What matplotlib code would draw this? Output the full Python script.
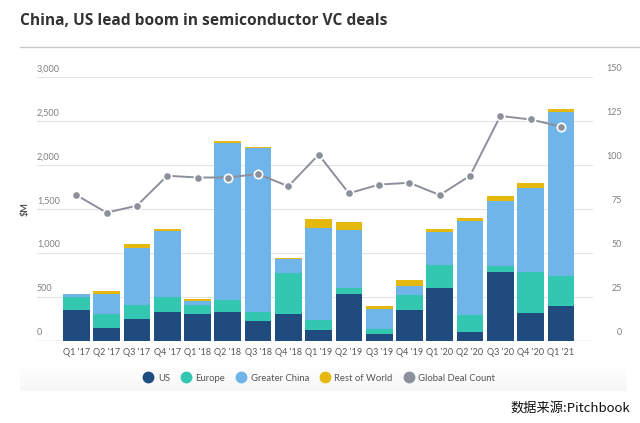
import matplotlib.pyplot as plt
from matplotlib.lines import Line2D
import numpy as np

# 数据 (读自原图, $M 及交易数量)
quarters = ["Q1 '17", "Q2 '17", "Q3 '17", "Q4 '17", "Q1 '18", "Q2 '18", "Q3 '18",
            "Q4 '18", "Q1 '19", "Q2 '19", "Q3 '19", "Q4 '19", "Q1 '20", "Q2 '20",
            "Q3 '20", "Q4 '20", "Q1 '21"]
us = [350, 150, 245, 330, 305, 330, 225, 305, 120, 540, 85, 355, 600, 105, 780, 315, 400]
europe = [145, 155, 160, 170, 100, 140, 100, 465, 115, 60, 55, 170, 260, 190, 70, 475, 340]
china = [35, 230, 650, 750, 55, 1785, 1875, 165, 1050, 665, 225, 105, 380, 1075, 745, 945, 1860]
rest = [5, 38, 45, 20, 20, 20, 12, 5, 100, 85, 30, 60, 30, 25, 55, 65, 45]
deal_count = [83, 73, 77, 94, 93, 93, 95, 88, 106, 84, 89, 90, 83, 94, 128, 126, 122]

left_ticks = [0, 500, 1000, 1500, 2000, 2500, 3000]
right_ticks = [0, 25, 50, 75, 100, 125, 150]

c_us = '#1f4b7f'
c_eu = '#33c6b0'
c_cn = '#70b5e9'
c_rw = '#e4b80c'
c_gd = '#8b909b'

plt.rcParams['font.family'] = ['Lato', 'DejaVu Sans']

fig = plt.figure(figsize=(6.4, 4.23), dpi=100)
W, H = 640, 423

# 卡片底部的浅灰渐变
grad_ax = fig.add_axes([20 / W, (H - 391) / H, 607 / W, 28 / H])
grad = np.linspace(0, 1, 50).reshape(-1, 1)
grad_ax.imshow(grad, aspect='auto', cmap='Greys', vmin=0, vmax=14, origin='upper')
grad_ax.axis('off')

# 标题和分隔线
fig.text(20 / W, 1 - 21 / H, 'China, US lead boom in semiconductor VC deals',
         fontsize=11.2, fontweight='bold', color='#333333', va='center',
         family=['Open Sans', 'DejaVu Sans'])
fig.add_artist(Line2D([20 / W, 1], [1 - 47 / H, 1 - 47 / H], color='#c8c8cc', lw=1))

ax = fig.add_axes([37 / W, (H - 341) / H, 556 / W, 263.7 / H])
x = np.arange(len(quarters))
width = 0.88

b1 = np.array(us)
b2 = b1 + np.array(europe)
b3 = b2 + np.array(china)
ax.bar(x, us, width, color=c_us, zorder=2)
ax.bar(x, europe, width, bottom=b1, color=c_eu, zorder=2)
ax.bar(x, china, width, bottom=b2, color=c_cn, zorder=2)
ax.bar(x, rest, width, bottom=b3, color=c_rw, zorder=2)

ax.set_xlim(-1.3, 17.06)
ax.set_ylim(0, 3000)
ax.set_yticks(left_ticks)
ax.set_yticklabels([])
ax.tick_params(axis='y', length=0)
ax.grid(axis='y', color='#e4e4e6', lw=0.8, zorder=0)
ax.set_xticks(x)
ax.set_xticklabels(quarters, fontsize=6.5, color='#555555')
ax.tick_params(axis='x', length=0, pad=5)
for s in ax.spines.values():
    s.set_visible(False)
ax.axhline(0, color='#cfcfd3', lw=1, zorder=1)

# 左侧刻度文字位于网格线上方
for t in left_ticks:
    ax.text(0, t + 45, f'{t:,}', transform=ax.get_yaxis_transform(),
            fontsize=6.5, color='#808080', ha='left', va='bottom')
ax.text(-12 / 556, 1500, '$M', transform=ax.get_yaxis_transform(), rotation=90,
        fontsize=6.5, color='#555555', ha='center', va='center', fontweight='bold')

ax2 = ax.twinx()
ax2.set_ylim(0, 150)
ax2.set_yticks(right_ticks)
ax2.set_yticklabels([])
ax2.tick_params(axis='y', length=0)
for s in ax2.spines.values():
    s.set_visible(False)
for t in right_ticks:
    ax2.text(1 + 29 / 556, t + 2.2, str(t), transform=ax2.get_yaxis_transform(),
             fontsize=6.5, color='#808080', ha='right', va='bottom')
ax2.plot(x, deal_count, color=c_gd, lw=1.4, marker='o', markersize=6,
         markerfacecolor=c_gd, markeredgecolor='white', markeredgewidth=1.2, zorder=3)

# 图例
labels = ['US', 'Europe', 'Greater China', 'Rest of World', 'Global Deal Count']
colors = [c_us, c_eu, c_cn, c_rw, c_gd]
handles = [Line2D([], [], ls='none', marker='o', markersize=7.5, color=c) for c in colors]
fig.legend(handles, labels, loc='center', bbox_to_anchor=(318 / W, 1 - 378 / H),
           ncol=5, frameon=False, fontsize=6.8, handletextpad=0.2, columnspacing=0.9,
           handlelength=1.6, labelcolor='#555555')

fig.text(630 / W, 1 - 408 / H, '数据来源:Pitchbook', fontsize=9.5, ha='right', va='center',
         color='#111111', family=['Noto Sans CJK SC', 'DejaVu Sans'])

fig.savefig('out.png', dpi=100)
